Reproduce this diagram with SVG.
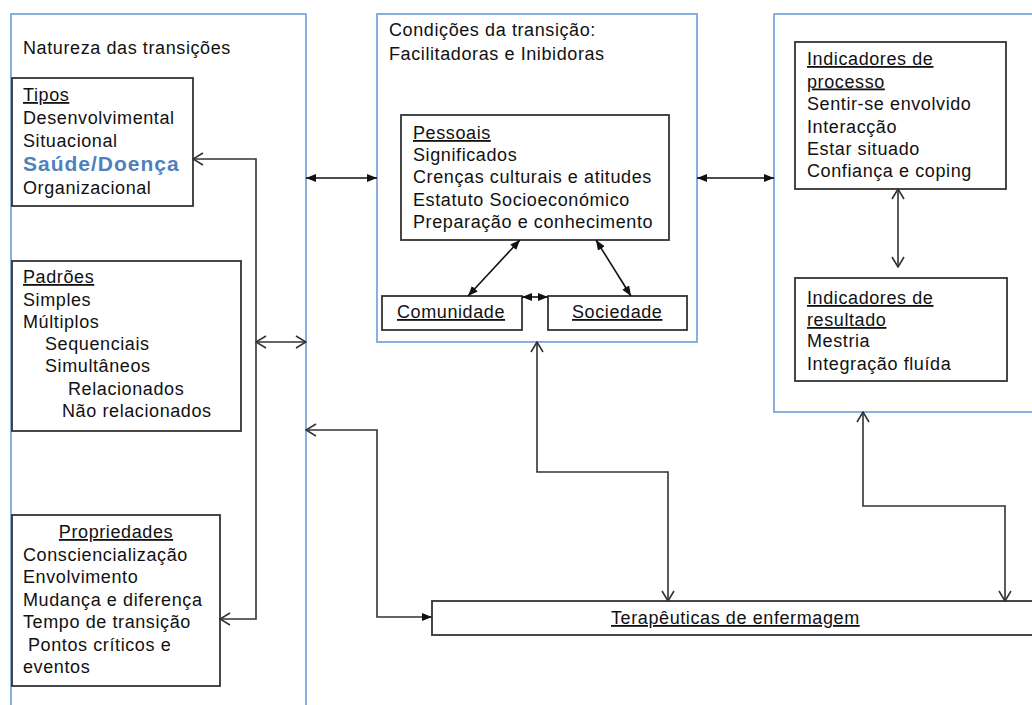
<svg xmlns="http://www.w3.org/2000/svg" width="1032" height="705" viewBox="0 0 1032 705">
<defs>
<style>
text{font-family:"Liberation Sans",Arial,sans-serif;font-size:18px;letter-spacing:0.6px;fill:#111}
.u{text-decoration:underline}
.blue{fill:none;stroke:#7ea6db;stroke-width:1.8}
.box{fill:#fff;stroke:#333;stroke-width:1.8}
.c{fill:none;stroke:#333;stroke-width:1.6}
.cf{fill:none;stroke:#111;stroke-width:1.6}
.hl{font-size:21px;font-weight:bold;fill:#4f81bd;letter-spacing:1px}
</style>
<marker id="fa" viewBox="0 0 10 8" refX="10" refY="4" markerWidth="10" markerHeight="8" markerUnits="userSpaceOnUse" orient="auto-start-reverse">
<path d="M0,0 L10,4 L0,8 z" fill="#111"/>
</marker>
<marker id="oa" viewBox="-1 -1 12 14" refX="10" refY="6" markerWidth="12" markerHeight="14" markerUnits="userSpaceOnUse" orient="auto-start-reverse">
<path d="M0,0 L10,6 L0,12" fill="none" stroke="#333" stroke-width="1.6"/>
</marker>
</defs>
<rect width="1032" height="705" fill="#fff"/>

<g id="natureza">
<rect class="blue" x="11" y="14" width="295" height="700"/>
<text x="23" y="54">Natureza das transições</text>
</g>
<g id="tipos">
<rect class="box" x="12" y="78" width="181" height="128"/>
<text x="23" y="101" class="u">Tipos</text>
<text x="23" y="124">Desenvolvimental</text>
<text x="23" y="147">Situacional</text>
<text x="23" y="171" class="hl">Saúde/Doença</text>
<text x="23" y="194">Organizacional</text>
</g>
<g id="padroes">
<rect class="box" x="12" y="261" width="229" height="170"/>
<text x="23" y="283" class="u">Padrões</text>
<text x="23" y="305.5">Simples</text>
<text x="23" y="328">Múltiplos</text>
<text x="45" y="350">Sequenciais</text>
<text x="45" y="372">Simultâneos</text>
<text x="68" y="395">Relacionados</text>
<text x="62" y="417">Não relacionados</text>
</g>
<g id="propriedades">
<rect class="box" x="12" y="515" width="208" height="171"/>
<text x="116" y="538" class="u" text-anchor="middle">Propriedades</text>
<text x="23" y="561">Consciencialização</text>
<text x="23" y="583">Envolvimento</text>
<text x="23" y="606">Mudança e diferença</text>
<text x="23" y="628">Tempo de transição</text>
<text x="28" y="651">Pontos críticos e</text>
<text x="23" y="673">eventos</text>
</g>

<g id="condicoes">
<rect class="blue" x="377" y="14" width="320" height="328"/>
<text x="389" y="36">Condições da transição:</text>
<text x="389" y="59.5">Facilitadoras e Inibidoras</text>
</g>
<g id="pessoais">
<rect class="box" x="401" y="115" width="268" height="125"/>
<text x="413" y="139" class="u">Pessoais</text>
<text x="413" y="160.5">Significados</text>
<text x="413" y="183">Crenças culturais e atitudes</text>
<text x="413" y="205.5">Estatuto Socioeconómico</text>
<text x="413" y="227.5">Preparação e conhecimento</text>
</g>
<g id="comunidade">
<rect class="box" x="382" y="296" width="140" height="34"/>
<text x="397" y="318" class="u">Comunidade</text>
</g>
<g id="sociedade">
<rect class="box" x="548" y="296" width="139" height="34"/>
<text x="572" y="318" class="u">Sociedade</text>
</g>

<g id="indicadores">
<rect class="blue" x="774" y="14" width="270" height="398"/>
</g>
<g id="processo">
<rect class="box" x="795" y="42" width="211" height="147"/>
<text x="807" y="65" class="u">Indicadores de</text>
<text x="807" y="87.5" class="u">processo</text>
<text x="807" y="110">Sentir-se envolvido</text>
<text x="807" y="132.5">Interacção</text>
<text x="807" y="155">Estar situado</text>
<text x="807" y="177">Confiança e coping</text>
</g>
<g id="resultado">
<rect class="box" x="795" y="278" width="212" height="103"/>
<text x="807" y="304" class="u">Indicadores de</text>
<text x="807" y="326" class="u">resultado</text>
<text x="807" y="347">Mestria</text>
<text x="807" y="370">Integração fluída</text>
</g>

<g id="terapeuticas">
<rect class="box" x="432" y="601" width="620" height="34"/>
<text x="611" y="624" class="u">Terapêuticas de enfermagem</text>
</g>

<g id="connectors">
<path class="c" d="M193,159 H256 V619 H220" marker-start="url(#oa)" marker-end="url(#oa)"/>
<path class="c" d="M256,342 H306" marker-start="url(#oa)" marker-end="url(#oa)"/>
<path class="cf" d="M306,178 H377" marker-start="url(#fa)" marker-end="url(#fa)"/>
<path class="cf" d="M697,178 H774" marker-start="url(#fa)" marker-end="url(#fa)"/>
<path class="cf" d="M520,240 L468,296" marker-start="url(#fa)" marker-end="url(#fa)"/>
<path class="cf" d="M596,240 L631,296" marker-start="url(#fa)" marker-end="url(#fa)"/>
<path class="cf" d="M522,297 H548" marker-start="url(#fa)" marker-end="url(#fa)"/>
<path class="c" d="M898,189 V267" marker-start="url(#oa)" marker-end="url(#oa)"/>
<path class="c" d="M306,430 H377 V617 H432" marker-start="url(#oa)" marker-end="url(#fa)"/>
<path class="c" d="M537,342 V472 H668 V601" marker-start="url(#oa)" marker-end="url(#oa)"/>
<path class="c" d="M863,412 V506 H1005 V601" marker-start="url(#oa)" marker-end="url(#oa)"/>
</g>
</svg>
